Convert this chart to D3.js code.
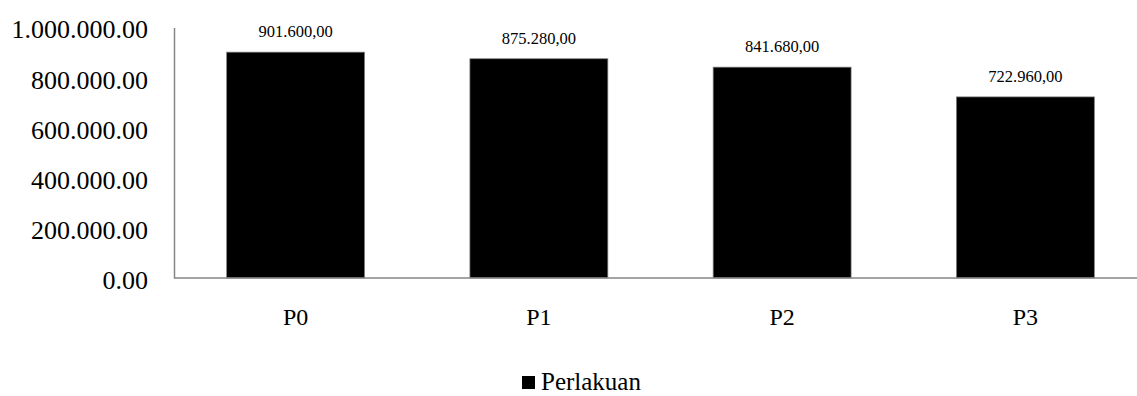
<!DOCTYPE html>
<html>
<head>
<meta charset="utf-8">
<script src="https://cdn.jsdelivr.net/npm/d3@7"></script>
<style>
  html, body { margin: 0; padding: 0; background: #fff; }
  svg { display: block; font-family: "Liberation Serif", "Times New Roman", serif; }
</style>
</head>
<body>
<svg id="chart" width="1137" height="396"></svg>
<script>
// Treatment groups and their values
const categories = ["P0", "P1", "P2", "P3"];
const values = [901600, 875280, 841680, 722960];
const yTicks = [0, 200000, 400000, 600000, 800000, 1000000];
const legendLabel = "Perlakuan";

const svg = d3.select("#chart");
const width = 1137, height = 396;
const margin = { left: 174, right: -10, top: 27.5, bottom: 118 };
const plotRight = width - margin.right;
const plotBottom = height - margin.bottom;
const serif = "'Liberation Serif', 'Times New Roman', serif";

// Number formats: value labels use comma decimals, axis uses dot decimals
const valueFmt = d3.formatLocale({ decimal: ",", thousands: ".", grouping: [3], currency: ["Rp", ""] }).format(",.2f");
const axisFmt = d3.formatLocale({ decimal: ".", thousands: ".", grouping: [3], currency: ["Rp", ""] }).format(",.2f");

const x = d3.scaleBand()
  .domain(categories)
  .range([margin.left, plotRight])
  .paddingInner(0.433)
  .paddingOuter(0.2165);

const y = d3.scaleLinear()
  .domain([0, 1000000])
  .range([plotBottom, margin.top]);

// Bars
svg.append("g")
  .selectAll("rect")
  .data(values)
  .join("rect")
  .attr("x", (d, i) => x(categories[i]))
  .attr("y", d => y(d))
  .attr("width", x.bandwidth())
  .attr("height", d => y(0) - y(d))
  .attr("fill", "#000")
  .attr("stroke", "#7f7f7f")
  .attr("stroke-width", 0.75);

// Value labels above bars
svg.append("g")
  .selectAll("text")
  .data(values)
  .join("text")
  .attr("x", (d, i) => x(categories[i]) + x.bandwidth() / 2)
  .attr("y", d => y(d) - 15)
  .attr("text-anchor", "middle")
  .attr("font-family", serif)
  .attr("font-size", 16.5)
  .attr("fill", "#000")
  .text(d => valueFmt(d));

// Y axis
const yAxis = svg.append("g")
  .attr("transform", `translate(${margin.left},0)`)
  .call(d3.axisLeft(y).tickValues(yTicks).tickSize(0).tickPadding(26).tickFormat(axisFmt));
yAxis.select(".domain").attr("stroke", "#868686").attr("stroke-width", 1.5);
yAxis.selectAll(".tick text")
  .attr("font-family", serif)
  .attr("font-size", 26)
  .attr("fill", "#000")
  .attr("dy", "0.4em");

// X axis
const xAxis = svg.append("g")
  .attr("transform", `translate(0,${plotBottom})`)
  .call(d3.axisBottom(x).tickSize(0).tickPadding(30));
xAxis.select(".domain")
  .attr("d", `M${margin.left},0H${plotRight}`)
  .attr("stroke", "#868686").attr("stroke-width", 1.5);
xAxis.selectAll(".tick text")
  .attr("font-family", serif)
  .attr("font-size", 24)
  .attr("fill", "#000");

// Legend
const legend = svg.append("g").attr("transform", "translate(522,376)");
legend.append("rect")
  .attr("width", 13).attr("height", 13)
  .attr("fill", "#000");
legend.append("text")
  .attr("x", 19).attr("y", 14)
  .attr("font-family", serif)
  .attr("font-size", 25)
  .attr("fill", "#000")
  .text(legendLabel);
</script>
</body>
</html>
